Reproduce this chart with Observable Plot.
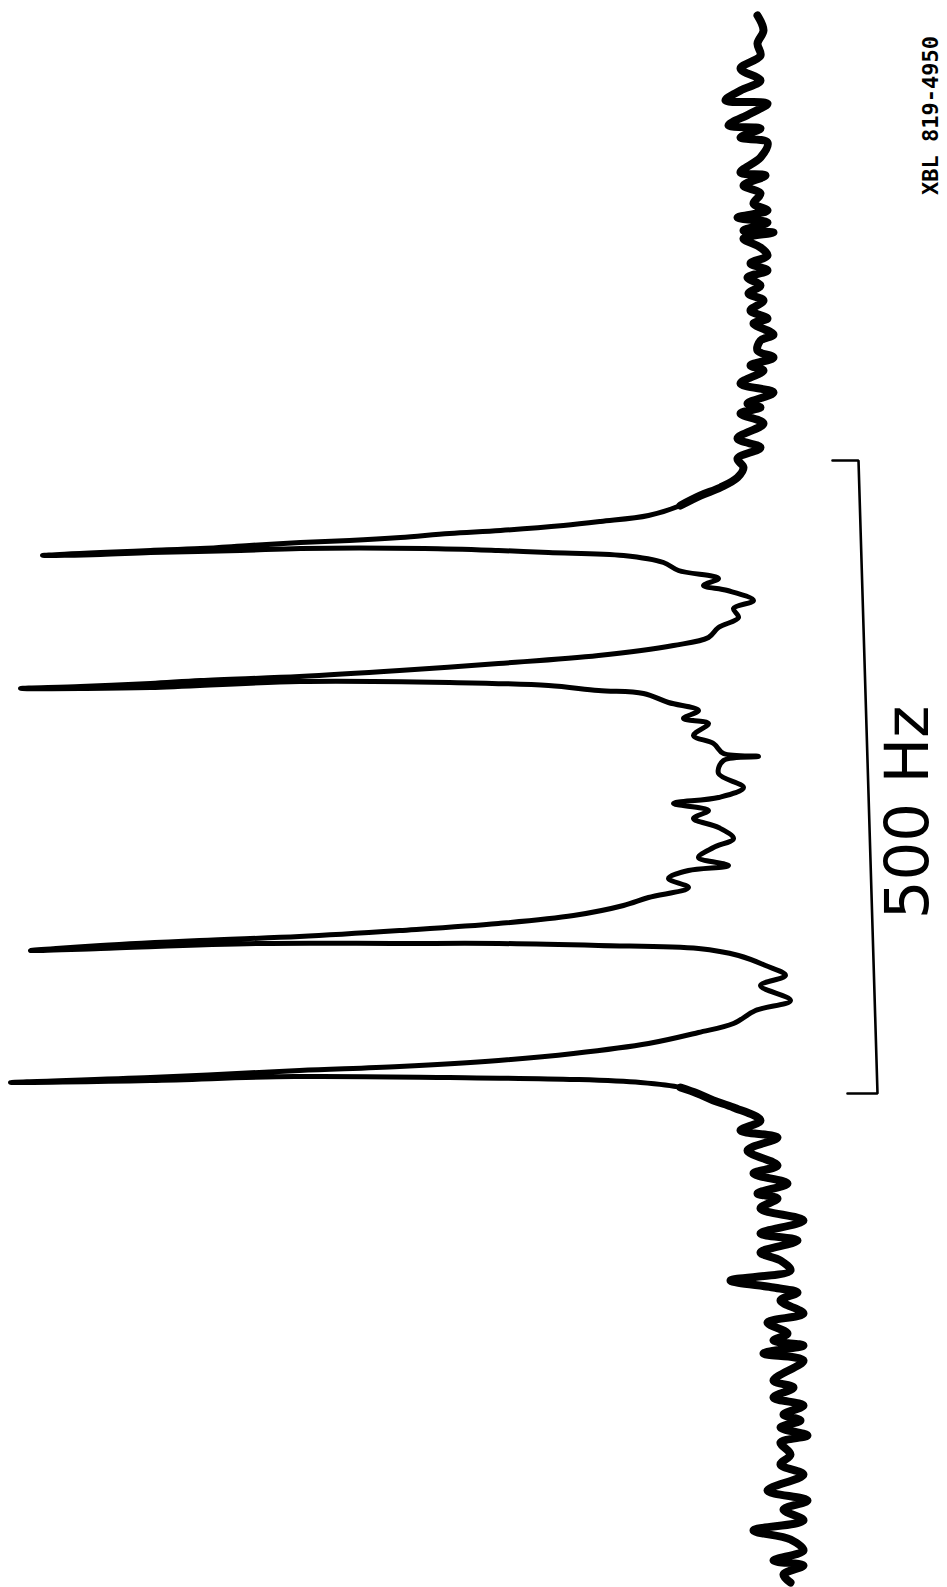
<!DOCTYPE html>
<html>
<head>
<meta charset="utf-8">
<script src="https://cdn.jsdelivr.net/npm/d3@7"></script>
<script src="https://cdn.jsdelivr.net/npm/@observablehq/plot@0.6"></script>
<style>
  html, body { margin: 0; padding: 0; background: #fff; }
  #chart svg { display: block; }
</style>
</head>
<body>
<div id="chart"></div>
<script>
// Spectrum trace: channel (frequency axis, 633 channels = 500 Hz) and intensity (arb. units)
const channel = [
  15,30,43,55,68,80,90,100,103,113,125,128,137,142,157,172,175,185,193,203,210,217,222,230,232,238,247,255,263,270,277,285,293,300,310,318,323,334,340,350,357,365,370,383,392,403,407,413,423,438,447,458,467,477,487,495,505,
  515,521,525,530,533,537,540,542,545,548,550,552,555,
  554,552,550,548,548,550,552,555,562,570,578,585,590,600,608,617,627,637,645,655,663,670,676,680,683,686,688,
  688,687,681,682,685,690,693,702,710,718,723,735,743,753,756,760,773,787,797,803,810,818,827,838,847,857,865,870,878,887,897,905,915,923,930,936,940,945,950,
  948,943,943,943,945,948,955,965,975,985,1000,1010,1023,1032,1043,1053,1060,1066,1070,1077,1082,
  1080,1076,1077,1079,1082,1087,1093,1100,1107,1120,1130,1137,1150,1165,1173,1183,1193,1198,1208,1220,1233,1240,1252,1260,1270,1280,1287,1292,1300,1313,1322,1333,1340,1345,1353,1360,1380,1387,1397,1405,1414,1420,1427,1435,1442,1454,1464,1474,1490,1500,1509,1520,1530,1539,1550,1560,1565,1574,1582
];
const intensity = [
  3,-3,3,0,20,0,20,35,-7,10,32,0,20,-7,0,20,-5,17,0,7,-7,23,-7,17,-13,17,0,-7,10,-7,13,0,12,-3,10,-7,7,-13,0,3,-13,10,-3,20,-13,13,0,20,-3,23,0,23,17,23,40,60,80,
  112,160,197,260,311,360,411,460,511,560,610,660,718,
  660,610,520,460,336,262,212,137,97,82,42,57,33,7,27,22,42,52,87,162,262,361,461,560,610,680,740,
  680,610,461,311,212,162,117,92,62,77,52,67,47,37,2,37,42,17,42,87,52,67,42,27,47,62,32,72,92,72,112,137,187,262,361,461,561,660,730,
  660,501,361,262,162,62,22,-5,-25,0,-30,5,27,62,112,187,262,361,461,610,750,
  610,466,311,185,120,80,63,47,27,0,20,-17,13,-17,7,-27,3,-17,0,-43,0,-37,0,-20,-30,30,-13,-37,-20,-43,-7,-27,-13,-43,-3,-43,-13,-33,-13,-43,-23,-40,-20,-47,-20,-30,-20,-43,-7,-47,-23,-43,7,-30,-43,-13,-43,-23,-30
];

// 500 Hz scale bracket (channels / intensity position)
const barChannel = [460, 460, 1093, 1093];
const barIntensity = [-72, -98, -117, -87];
const barLabel = "500 Hz";
const barLabelChannel = 812;
const barLabelIntensity = -148;

const figId = "XBL 819-4950";
const figIdChannel = 115;
const figIdIntensity = -170;

const trace = channel.map((c, k) => ({c, i: intensity[k]}));
const baselineParts = trace
  .filter(d => d.c <= 505 || d.c >= 1087)
  .map(d => ({...d, part: d.c < 800 ? "top" : "bottom"}));
const bracket = barChannel.map((c, k) => ({c, i: barIntensity[k]}));

const chart = Plot.plot({
  width: 947,
  height: 1587,
  margin: 0,
  style: {background: "#fff"},
  x: {domain: [-200, 750], range: [960, 10], axis: null},
  y: {domain: [0, 1587], range: [0, 1587], axis: null},
  marks: [
    Plot.line(trace, {x: "i", y: "c", stroke: "#000", strokeWidth: 5, strokeLinejoin: "round", strokeLinecap: "round", curve: "catmull-rom"}),
    Plot.line(baselineParts, {x: "i", y: "c", z: "part", stroke: "#000", strokeWidth: 8, strokeLinejoin: "round", strokeLinecap: "round", curve: "catmull-rom"}),
    Plot.line(bracket, {x: "i", y: "c", stroke: "#000", strokeWidth: 2.6, strokeLinejoin: "miter"}),
    Plot.text([barLabel], {x: () => barLabelIntensity, y: () => barLabelChannel, text: d => d, rotate: -90, fontSize: 61, fontFamily: "DejaVu Sans", fill: "#000"}),
    Plot.text([figId], {x: () => figIdIntensity, y: () => figIdChannel, text: d => d, rotate: -90, fontSize: 22, fontWeight: "bold", fontFamily: "DejaVu Sans Mono", fill: "#000"})
  ]
});
document.getElementById("chart").appendChild(chart);
</script>
</body>
</html>
